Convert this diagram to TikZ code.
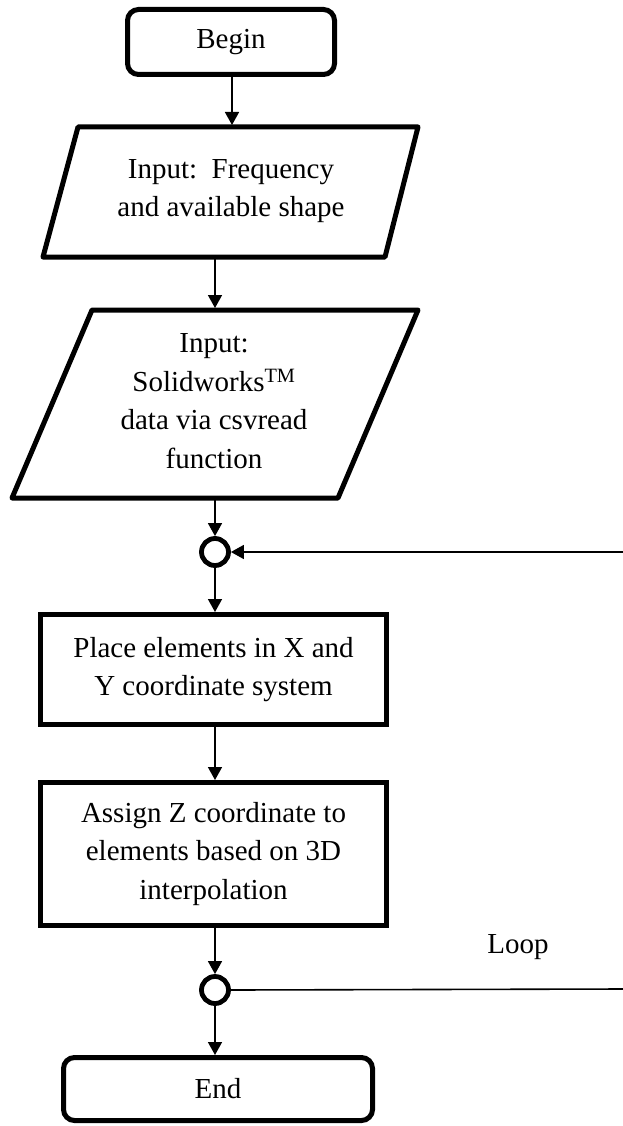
\documentclass[tikz,border=0pt]{standalone}
\usepackage{fontspec}
\setmainfont{Liberation Serif}
\usetikzlibrary{arrows.meta}
\begin{document}
\begin{tikzpicture}[x=1pt,y=-1pt,
  every node/.style={font=\fontsize{29}{38.5}\selectfont, inner sep=0pt, align=center},
  term/.style={draw, line width=5pt, rounded corners=11pt},
  proc/.style={draw, line width=5pt},
  iobox/.style={draw, line width=5pt, line join=round},
  joint/.style={draw, circle, line width=4.8pt, minimum size=27pt},
  flow/.style={line width=1.6pt, -{Triangle[length=13pt,width=14pt]}},
  link/.style={line width=1.6pt}]
\useasboundingbox (0,0) rectangle (623,1126);

% terminals, process boxes and junctions
\node[term, minimum width=207pt, minimum height=65pt] (begin) at (231,42) {Begin};

\draw[iobox] (78,127) -- (418,127) -- (385,257) -- (43,257) -- cycle;
\node (in1) at (231,191) {Input:\ \ Frequency\\and available shape};
\coordinate (in1top) at (232,125);
\coordinate (in1bot) at (215,259);

\draw[iobox] (92,310) -- (418,310) -- (338,498) -- (12,498) -- cycle;
\node (in2) at (214,401) {Input:\\Solidworks\textsuperscript{TM}\\data via csvread\\function};
\coordinate (in2top) at (215,308);
\coordinate (in2bot) at (215,500);

\node[joint] (j1) at (215,552) {};

\node[proc, minimum width=346pt, minimum height=110pt] (place) at (213.5,669.5)
  {Place elements in X and\\Y coordinate system};

\node[proc, minimum width=346pt, minimum height=143pt] (assign) at (213.5,854)
  {Assign Z coordinate to\\elements based on 3D\\interpolation};

\node[joint] (j2) at (215,990) {};

\node[term, minimum width=309pt, minimum height=63pt] (end) at (218,1089) {End};

\node (looplabel) at (518,947) {Loop};

% loop return lines, running off the right edge
\coordinate (loopin) at (623,552);
\coordinate (loopout) at (623,989);

% connectors
\draw[flow] (begin.south -| in1top) -- (in1top);
\draw[flow] (in1bot) -- (in2top);
\draw[flow] (in2bot) -- (j1.north);
\draw[flow] (j1.south) -- (j1.south |- place.north);
\draw[flow] (j1.south |- place.south) -- (j1.south |- assign.north);
\draw[flow] (j1.south |- assign.south) -- (j2.north);
\draw[flow] (j2.south) -- (j2.south |- end.north);
\draw[flow] (loopin) -- (j1.east);
\draw[link] (j2.east) -- (loopout);
\end{tikzpicture}
\end{document}
